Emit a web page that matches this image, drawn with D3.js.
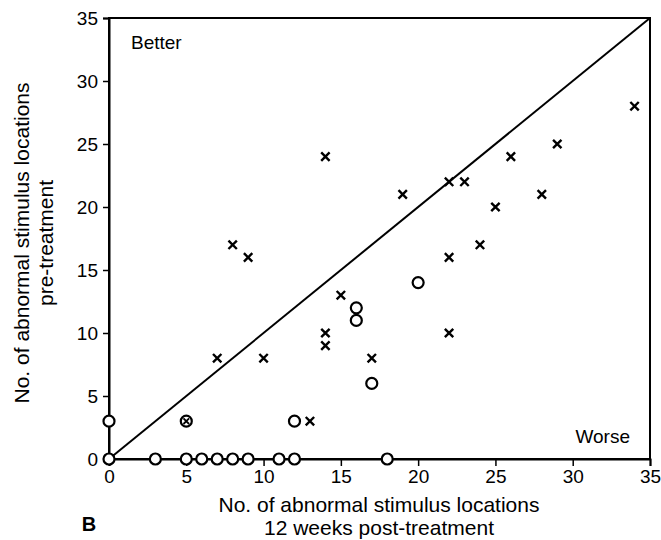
<!DOCTYPE html>
<html><head><meta charset="utf-8">
<script src="https://cdn.jsdelivr.net/npm/d3@7"></script>
<style>body{margin:0;background:#fff}svg{font-family:"Liberation Sans",Arial,sans-serif}</style>
</head><body><svg id="c" width="661" height="540"></svg>
<script>
const xTicks = [0,5,10,15,20,25,30,35];
const yTicks = [0,5,10,15,20,25,30,35];
// crosses: [post, pre]
const crossPost = [7,8,9,10,13,14,14,14,15,17,19,22,22,22,23,24,25,26,28,29,34];
const crossPre  = [8,17,16,8,3,24,10,9,13,8,21,22,16,10,22,17,20,24,21,25,28];
// circles
const circPost = [0,0,3,5,6,7,8,9,11,12,18,12,16,16,17,20];
const circPre  = [3,0,0,0,0,0,0,0,0,0,0,3,12,11,6,14];
// circle with cross
const bothPost = [5];
const bothPre  = [3];

const svg = d3.select("#c");
const x = d3.scaleLinear().domain([0,35]).range([109,650]);
const y = d3.scaleLinear().domain([0,35]).range([459,18]);

svg.append("rect").attr("x",x(0)).attr("y",y(35)).attr("width",x(35)-x(0)).attr("height",y(0)-y(35))
  .attr("fill","none").attr("stroke","#000").attr("stroke-width",2);

const xa = svg.append("g").attr("transform",`translate(0,${y(0)})`)
  .call(d3.axisBottom(x).tickValues(xTicks).tickSize(7).tickPadding(4).tickFormat(d3.format("d")));
const ya = svg.append("g").attr("transform",`translate(${x(0)},0)`)
  .call(d3.axisLeft(y).tickValues(yTicks).tickSize(6).tickPadding(5).tickFormat(d3.format("d")));
[xa,ya].forEach(a=>{
  a.select(".domain").attr("stroke","#000").attr("stroke-width",2);
  a.selectAll(".tick line").attr("stroke","#000").attr("stroke-width",1.5);
  a.selectAll("text").attr("font-size",19).attr("fill","#000").attr("font-family","Liberation Sans, Arial, sans-serif");
});

svg.append("line").attr("x1",x(0)).attr("y1",y(0)).attr("x2",x(35)).attr("y2",y(35))
  .attr("stroke","#000").attr("stroke-width",2);

const g = svg.append("g");
const s = 4.2;
crossPost.forEach((px,i)=>{
  const cx=x(px), cy=y(crossPre[i]);
  g.append("path").attr("d",`M${cx-s},${cy-s}L${cx+s},${cy+s}M${cx-s},${cy+s}L${cx+s},${cy-s}`)
   .attr("stroke","#000").attr("stroke-width",2.4).attr("fill","none");
});
circPost.forEach((px,i)=>{
  g.append("circle").attr("cx",x(px)).attr("cy",y(circPre[i])).attr("r",5.5)
   .attr("fill","#fff").attr("stroke","#000").attr("stroke-width",2.2);
});
bothPost.forEach((px,i)=>{
  const cx=x(px), cy=y(bothPre[i]);
  g.append("circle").attr("cx",cx).attr("cy",cy).attr("r",5.5)
   .attr("fill","#fff").attr("stroke","#000").attr("stroke-width",2.2);
  const t=2.8;
  g.append("path").attr("d",`M${cx-t},${cy-t}L${cx+t},${cy+t}M${cx-t},${cy+t}L${cx+t},${cy-t}`)
   .attr("stroke","#000").attr("stroke-width",1.8);
});

svg.append("text").attr("x",131).attr("y",49).attr("font-size",19).text("Better");
svg.append("text").attr("x",630).attr("y",443).attr("text-anchor","end").attr("font-size",19).text("Worse");
svg.append("text").attr("x",89).attr("y",531).attr("font-size",20).attr("font-weight","bold").attr("text-anchor","middle").text("B");

const xt = svg.append("text").attr("text-anchor","middle").attr("font-size",21);
xt.append("tspan").attr("x",379).attr("y",512).text("No. of abnormal stimulus locations");
xt.append("tspan").attr("x",379).attr("y",535).text("12 weeks post-treatment");

const yt = svg.append("text").attr("text-anchor","middle").attr("font-size",21)
  .attr("transform","translate(0,243) rotate(-90)");
yt.append("tspan").attr("x",0).attr("y",29).text("No. of abnormal stimulus locations");
yt.append("tspan").attr("x",0).attr("y",53).text("pre-treatment");
</script></body></html>
